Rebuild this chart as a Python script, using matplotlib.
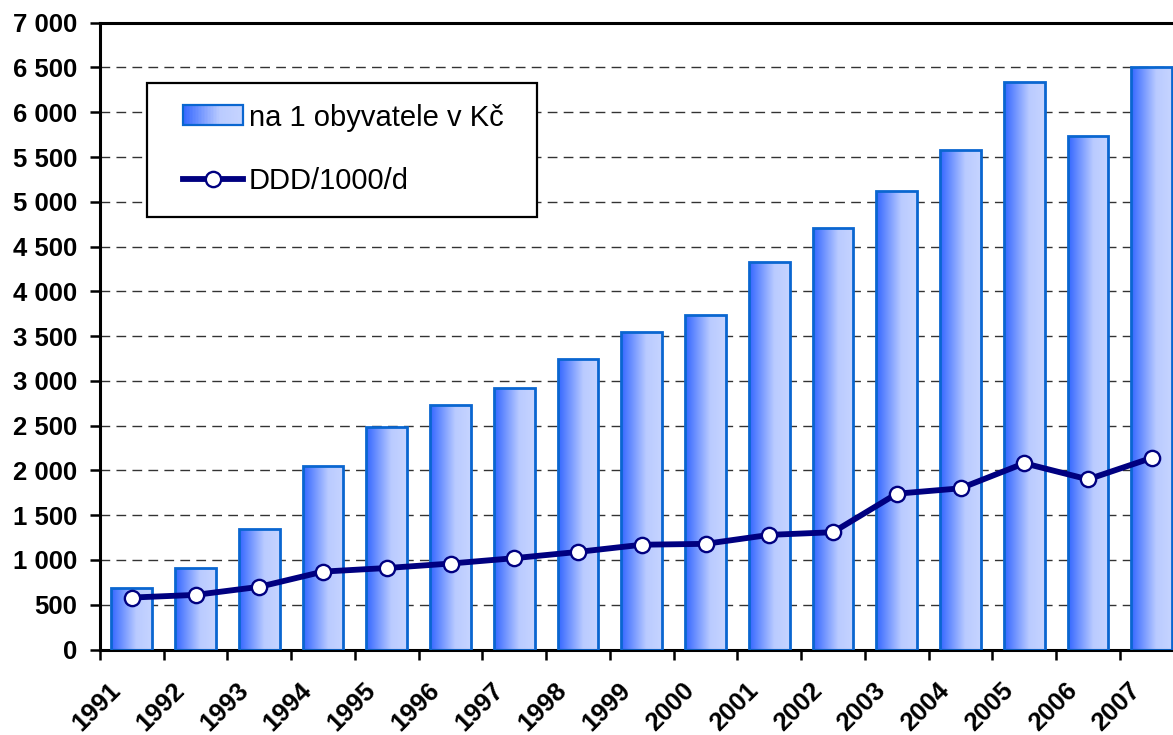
import numpy as np
import matplotlib
matplotlib.use("Agg")
import matplotlib.pyplot as plt
from matplotlib.patches import Rectangle
from matplotlib.legend_handler import HandlerBase
from matplotlib.colors import LinearSegmentedColormap
import matplotlib.transforms as mtransforms

# ---- data ----
years = ["1991", "1992", "1993", "1994", "1995", "1996", "1997", "1998", "1999",
         "2000", "2001", "2002", "2003", "2004", "2005", "2006", "2007"]
cost_per_capita = [685, 910, 1350, 2050, 2480, 2730, 2920, 3240, 3545,
                   3740, 4330, 4710, 5120, 5580, 6340, 5740, 6500]
ddd = [580, 610, 700, 870, 910, 960, 1020, 1090, 1170,
       1180, 1280, 1310, 1740, 1800, 2080, 1900, 2140]
bar_label = "na 1 obyvatele v Kč"
line_label = "DDD/1000/d"
yticks = list(range(0, 7001, 500))

# ---- style ----
plt.rcParams['font.family'] = ['Liberation Sans', 'DejaVu Sans']
grad = LinearSegmentedColormap.from_list(
    "g", [(0.0, "#3366FF"), (0.62, "#BACBFF"), (1.0, "#C6D4FF")])
edge_col = "#0A66D0"
navy = "#000080"

W, H = 1173, 735
fig = plt.figure(figsize=(W / 100, H / 100), dpi=100)
ax_left, ax_right, ax_top, ax_bottom = 100, 1183.6, 22.7, 649.5
ax = fig.add_axes([ax_left / W, 1 - ax_bottom / H,
                   (ax_right - ax_left) / W, (ax_bottom - ax_top) / H])

x = np.arange(len(years))
bars = ax.bar(x, cost_per_capita, width=0.64, facecolor="none",
              edgecolor=edge_col, linewidth=2.0, zorder=3)
gimg = np.linspace(0, 1, 256).reshape(1, -1)
for b in bars:
    x0, y0 = b.get_x(), b.get_y()
    im = ax.imshow(gimg, cmap=grad, extent=(x0, x0 + b.get_width(), y0, y0 + b.get_height()),
                   aspect="auto", interpolation="bilinear", zorder=2)
    im.set_clip_path(b)

ax.plot(x, ddd, color=navy, lw=4.2, marker="o", markersize=11,
        markerfacecolor="white", markeredgecolor=navy, markeredgewidth=1.7, zorder=4)

ax.set_xlim(-0.5, len(years) - 0.5)
ax.set_ylim(0, 7000)

# y axis
ax.set_yticks(yticks)
ax.set_yticklabels([f"{v:,}".replace(",", " ") for v in yticks],
                   fontsize=18.5, fontweight="bold")
ax.tick_params(axis="y", length=7, width=1.8, pad=9.5, direction="out")
for v in yticks[1:-1]:
    ax.axhline(v, color="#333333", lw=1.0, dashes=(7, 4.5), zorder=1)

# x axis: ticks at boundaries, labels rotated at centers
ax.set_xticks(np.arange(-0.5, len(years), 1.0))
ax.set_xticklabels([])
ax.tick_params(axis="x", length=7, width=1.8, direction="out")
off = mtransforms.ScaledTranslation(-35 / 100, -57 / 100, fig.dpi_scale_trans)
btr = mtransforms.blended_transform_factory(ax.transData, ax.transAxes) + off
for xi, lab in zip(x, years):
    ax.text(xi, 0, lab, transform=btr, rotation=45, ha="center", va="center",
            rotation_mode="anchor", fontsize=18.5, fontweight="bold", clip_on=False)

for s in ["left", "bottom", "top"]:
    ax.spines[s].set_linewidth(2.2)
    ax.spines[s].set_color("black")
ax.spines["right"].set_visible(False)

# legend
class GradHandler(HandlerBase):
    def create_artists(self, legend, orig_handle, xdescent, ydescent,
                       width, height, fontsize, trans):
        arts = []
        n = 40
        for i in range(n):
            r = Rectangle((-xdescent + width * i / n, -ydescent), width / n + 0.3, height,
                          facecolor=grad((i + 0.5) / n), edgecolor="none", transform=trans)
            arts.append(r)
        arts.append(Rectangle((-xdescent, -ydescent), width, height, facecolor="none",
                              edgecolor=edge_col, lw=1.6, transform=trans))
        return arts

def axfrac(px, py):
    return ((px - ax_left) / (ax_right - ax_left), (ax_bottom - py) / (ax_bottom - ax_top))

fx0, fy0 = axfrac(147, 217)
fx1, fy1 = axfrac(537, 83)
ax.add_patch(Rectangle((fx0, fy0), fx1 - fx0, fy1 - fy0, transform=ax.transAxes,
                       facecolor="white", edgecolor="black", lw=1.6, zorder=6))
proxy = Rectangle((0, 0), 1, 1)
line_handle = plt.Line2D([], [], color=navy, lw=4.2, marker="o", markersize=11,
                         markerfacecolor="white", markeredgecolor=navy, markeredgewidth=1.7)
lx, ly = axfrac(183, 103.5)
leg = ax.legend([proxy, line_handle], [bar_label, line_label],
                handler_map={Rectangle: GradHandler()},
                loc="upper left", bbox_to_anchor=(lx, ly), frameon=False,
                borderpad=0, borderaxespad=0, fontsize=21, labelspacing=1.23,
                handlelength=2.05, handleheight=0.68, handletextpad=0.2)
leg.set_zorder(7)

fig.savefig("out.png", dpi=100)
